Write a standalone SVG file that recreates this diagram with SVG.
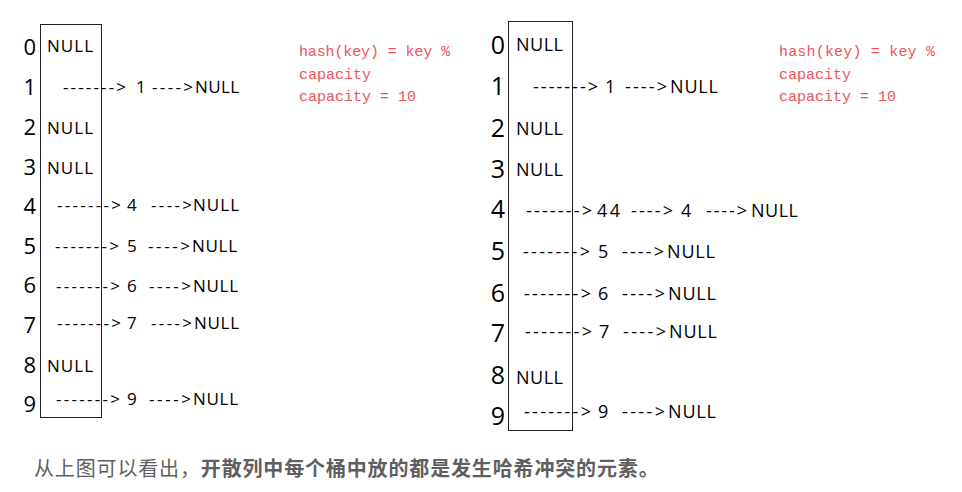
<svg xmlns="http://www.w3.org/2000/svg" width="962" height="492" viewBox="0 0 962 492">
<style>
.box{fill:none;stroke:#222;stroke-width:1}
.idxL{font-family:"Open Sans","Noto Sans",sans-serif;font-size:22px;fill:#000;text-anchor:end}
.idxR{font-family:"Open Sans","Noto Sans",sans-serif;font-size:25px;fill:#000;text-anchor:end}
.tL{font-family:"Open Sans","Noto Sans",sans-serif;font-size:17px;fill:#000}
.tR{font-family:"Open Sans","Noto Sans",sans-serif;font-size:18px;fill:#000}
.red{font-family:"Liberation Mono",monospace;font-size:15px;fill:#f0525a}
.cap{font-family:"Noto Sans CJK SC",sans-serif;font-size:20px;fill:#5f5f5f;letter-spacing:0.85px}
</style>
<rect width="962" height="492" fill="#fff"/>

<g id="table-left">
<rect class="box" x="40.5" y="24.5" width="61" height="393"/>
<text class="idxL" x="36" y="55">0</text>
<text class="idxL" x="36" y="95">1</text>
<text class="idxL" x="36" y="135">2</text>
<text class="idxL" x="36" y="175">3</text>
<text class="idxL" x="36" y="214">4</text>
<text class="idxL" x="36" y="254">5</text>
<text class="idxL" x="36" y="293">6</text>
<text class="idxL" x="36" y="333">7</text>
<text class="idxL" x="36" y="373">8</text>
<text class="idxL" x="36" y="412">9</text>
<text class="tL" x="47" y="52" textLength="46">NULL</text>
<text class="tL" x="47" y="134" textLength="46">NULL</text>
<text class="tL" x="47" y="174" textLength="46">NULL</text>
<text class="tL" x="47" y="372" textLength="46">NULL</text>
</g>

<g id="nodes-left">
<text class="tL" x="136" y="93">1</text>
<text class="tL" x="195" y="93" textLength="44">NULL</text>
<text class="tL" x="127" y="211">4</text>
<text class="tL" x="193" y="211" textLength="46">NULL</text>
<text class="tL" x="127" y="252">5</text>
<text class="tL" x="192" y="252" textLength="45">NULL</text>
<text class="tL" x="127" y="292">6</text>
<text class="tL" x="193" y="292" textLength="45">NULL</text>
<text class="tL" x="127" y="329">7</text>
<text class="tL" x="194" y="329" textLength="45">NULL</text>
<text class="tL" x="127" y="405">9</text>
<text class="tL" x="193" y="405" textLength="45">NULL</text>
</g>

<g id="table-right">
<rect class="box" x="508.5" y="21.5" width="64" height="409"/>
<text class="idxR" x="505" y="54">0</text>
<text class="idxR" x="505" y="95">1</text>
<text class="idxR" x="505" y="137">2</text>
<text class="idxR" x="505" y="178">3</text>
<text class="idxR" x="505" y="218">4</text>
<text class="idxR" x="505" y="260">5</text>
<text class="idxR" x="505" y="302">6</text>
<text class="idxR" x="505" y="342">7</text>
<text class="idxR" x="505" y="384">8</text>
<text class="idxR" x="505" y="425">9</text>
<text class="tR" x="516" y="51" textLength="47">NULL</text>
<text class="tR" x="516" y="135" textLength="47">NULL</text>
<text class="tR" x="516" y="176" textLength="47">NULL</text>
<text class="tR" x="516" y="384" textLength="47">NULL</text>
</g>

<g id="nodes-right">
<text class="tR" x="605" y="93">1</text>
<text class="tR" x="670" y="93" textLength="48">NULL</text>
<text class="tR" x="597" y="217" textLength="23">44</text>
<text class="tR" x="681" y="217">4</text>
<text class="tR" x="751" y="217" textLength="47">NULL</text>
<text class="tR" x="598" y="258">5</text>
<text class="tR" x="667" y="258" textLength="48">NULL</text>
<text class="tR" x="598" y="300">6</text>
<text class="tR" x="668" y="300" textLength="48">NULL</text>
<text class="tR" x="599" y="338">7</text>
<text class="tR" x="669" y="338" textLength="48">NULL</text>
<text class="tR" x="598" y="418">9</text>
<text class="tR" x="668" y="418" textLength="48">NULL</text>
</g>

<g id="connectors">
<text class="tL" x="63" y="93" textLength="63">-------&gt;</text>
<text class="tL" x="152" y="93" textLength="41">----&gt;</text>
<text class="tL" x="57" y="211" textLength="64">-------&gt;</text>
<text class="tL" x="151" y="211" textLength="41">----&gt;</text>
<text class="tL" x="55" y="252" textLength="64">-------&gt;</text>
<text class="tL" x="148" y="252" textLength="42">----&gt;</text>
<text class="tL" x="56" y="292" textLength="64">-------&gt;</text>
<text class="tL" x="149" y="292" textLength="42">----&gt;</text>
<text class="tL" x="57" y="329" textLength="64">-------&gt;</text>
<text class="tL" x="151" y="329" textLength="41">----&gt;</text>
<text class="tL" x="56" y="405" textLength="64">-------&gt;</text>
<text class="tL" x="149" y="405" textLength="42">----&gt;</text>

<text class="tR" x="533" y="93" textLength="65">-------&gt;</text>
<text class="tR" x="625" y="93" textLength="42">----&gt;</text>
<text class="tR" x="526" y="217" textLength="66">-------&gt;</text>
<text class="tR" x="631" y="217" textLength="42">----&gt;</text>
<text class="tR" x="706" y="217" textLength="41">----&gt;</text>
<text class="tR" x="523" y="258" textLength="67">-------&gt;</text>
<text class="tR" x="622" y="258" textLength="42">----&gt;</text>
<text class="tR" x="524" y="300" textLength="67">-------&gt;</text>
<text class="tR" x="622" y="300" textLength="43">----&gt;</text>
<text class="tR" x="525" y="338" textLength="67">-------&gt;</text>
<text class="tR" x="623" y="338" textLength="43">----&gt;</text>
<text class="tR" x="524" y="418" textLength="67">-------&gt;</text>
<text class="tR" x="622" y="418" textLength="43">----&gt;</text>
</g>

<g id="note-left">
<text class="red" x="299" y="56" textLength="151">hash(key) = key %</text>
<text class="red" x="299" y="79">capacity</text>
<text class="red" x="299" y="101">capacity = 10</text>
</g>
<g id="note-right">
<text class="red" x="779" y="56" textLength="156">hash(key) = key %</text>
<text class="red" x="779" y="79">capacity</text>
<text class="red" x="779" y="101">capacity = 10</text>
</g>

<g id="caption">
<text class="cap" x="34" y="476">从上图可以看出，<tspan font-weight="bold">开散列中每个桶中放的都是发生哈希冲突的元素。</tspan></text>
</g>
</svg>
